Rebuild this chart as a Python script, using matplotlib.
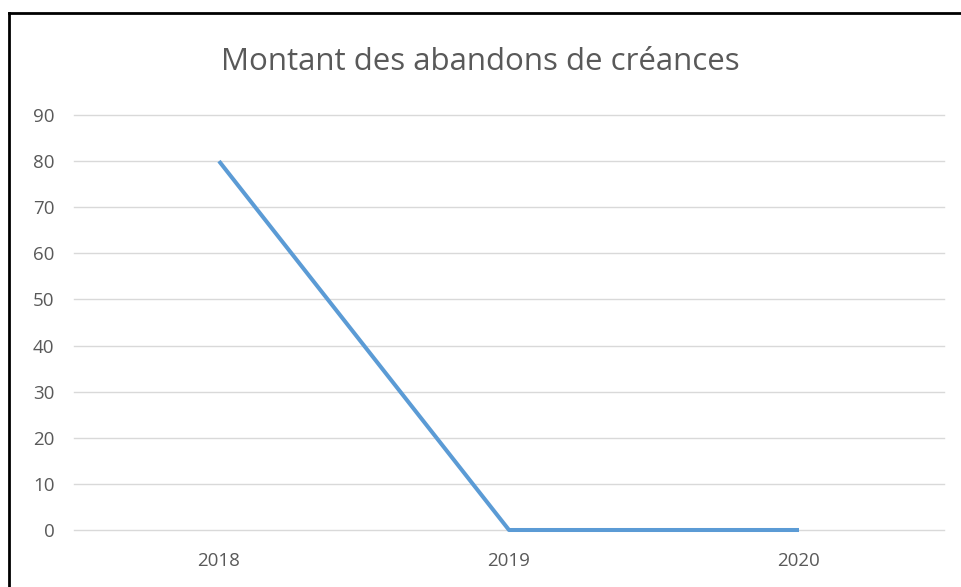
import matplotlib
matplotlib.use("Agg")
import matplotlib.pyplot as plt
from matplotlib.lines import Line2D

# chart data
years = ["2018", "2019", "2020"]
montants = [80, 0, 0]
y_ticks = list(range(0, 100, 10))

plt.rcParams['font.family'] = ['Open Sans', 'DejaVu Sans']
text_grey = "#595959"

fig = plt.figure(figsize=(9.61, 5.87), dpi=100)
ax = fig.add_axes([74 / 961, 1 - 530 / 587, 870 / 961, 415 / 587])

x = range(len(years))
ax.plot(x, montants, color="#5B9BD5", linewidth=2.9, solid_capstyle="butt",
        clip_on=False, zorder=3)

ax.set_xlim(-0.5, len(years) - 0.5)
ax.set_ylim(0, 90)
ax.set_xticks(list(x))
ax.set_xticklabels(years)
ax.set_yticks(y_ticks)

ax.grid(axis="y", color="#D9D9D9", linewidth=1, clip_on=False)
ax.set_axisbelow(True)
for s in ax.spines.values():
    s.set_visible(False)
ax.tick_params(length=0, labelsize=13.5, colors=text_grey)
ax.tick_params(axis="y", pad=14)
ax.tick_params(axis="x", pad=16)
for gl in ax.get_ygridlines():
    gl.set_clip_on(False)

fig.text(0.5, 1 - 62 / 587, "Montant des abandons de créances",
         ha="center", va="center", fontsize=22.5, color=text_grey)

# outer frame (only top and left edges visible)
fig.add_artist(Line2D([9 / 961, 9 / 961], [0, 1 - 13 / 587], color="black", linewidth=2))
fig.add_artist(Line2D([9 / 961, 1], [1 - 13 / 587, 1 - 13 / 587], color="black", linewidth=2))

fig.savefig("out.png", dpi=100)
